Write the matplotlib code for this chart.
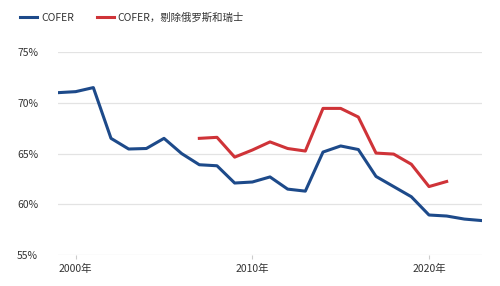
import numpy as np
import matplotlib
matplotlib.use('Agg')
import matplotlib.pyplot as plt

plt.rcParams['font.family'] = ['Noto Sans CJK SC', 'DejaVu Sans']

years = list(range(1999, 2024))
cofer = [71.0, 71.1, 71.5, 66.5, 65.45, 65.5, 66.5, 65.0, 63.9, 63.8, 62.1, 62.2,
         62.7, 61.5, 61.3, 65.15, 65.75, 65.4, 62.75, 61.75, 60.75, 58.95, 58.85,
         58.55, 58.4]
years_ex = list(range(2007, 2022))
cofer_ex = [66.5, 66.6, 64.65, 65.35, 66.15, 65.5, 65.25, 69.45, 69.45, 68.6,
            65.05, 64.95, 63.95, 61.75, 62.25]

yticks = [55, 60, 65, 70, 75]
xticks = [2000, 2010, 2020]

blue = '#1d4a8a'
red = '#cf3338'

fig = plt.figure(figsize=(5, 2.86), dpi=100)
ax = fig.add_axes([0.116, 0.108, 0.848, 0.71])

ax.plot(years, cofer, color=blue, lw=2.2, label='COFER')
ax.plot(years_ex, cofer_ex, color=red, lw=2.2, label='COFER，剔除俄罗斯和瑞士')

ax.set_xlim(1999, 2023)
ax.set_ylim(55, 75)
ax.set_yticks(yticks)
ax.set_yticklabels([f'{v}%' for v in yticks])
ax.set_xticks(xticks)
ax.set_xticklabels([f'{v}年' for v in xticks])
ax.grid(axis='y', color='#e3e3e3', lw=0.9)
ax.set_axisbelow(True)
for s in ax.spines.values():
    s.set_visible(False)
ax.tick_params(axis='y', length=0, pad=29.5, labelsize=7.5, labelcolor='#333333')
ax.tick_params(axis='x', length=3, color='#cccccc', pad=3.5, labelsize=7.5,
               labelcolor='#333333')
for lab in ax.get_yticklabels():
    lab.set_horizontalalignment('left')

fig.legend(loc='upper left', bbox_to_anchor=(0.022, 0.99), ncol=2, frameon=False,
           fontsize=7.5, handlelength=1.6, columnspacing=2.2,
           handletextpad=0.4, labelcolor='#333333')

plt.savefig('out.png', dpi=100)
